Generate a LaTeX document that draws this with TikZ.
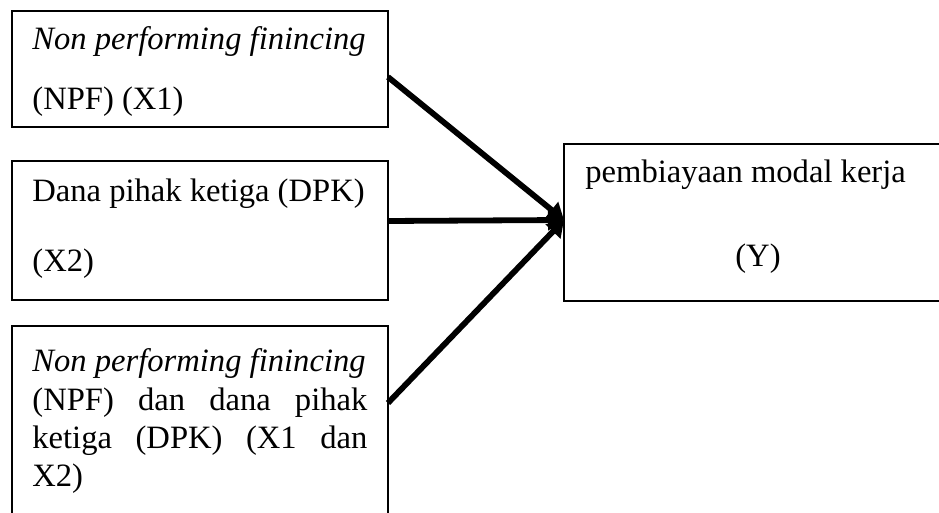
\documentclass[tikz,border=0pt]{standalone}
\usepackage{fontspec}
\setmainfont{Liberation Serif}
\usetikzlibrary{arrows.meta}
\begin{document}
\begin{tikzpicture}[x=0.5pt,y=-0.5pt,
  box/.style={draw,line width=0.8pt,minimum width=188pt,inner sep=0pt},
  txt/.style={anchor=base west,inner sep=0pt,font=\fontsize{16.3}{19}\selectfont},
  link/.style={line width=2.9pt,-{Triangle[length=8pt,width=10pt]}}]
\useasboundingbox (0,0) rectangle (939,513);
\clip (0,0) rectangle (939,513);
% variable boxes
\node[box,minimum height=58pt] (b1) at (200,69) {};
\node[box,minimum height=69.5pt] (b2) at (200,230.5) {};
\node[box,minimum height=102pt] (b3) at (200,428) {};
\node[draw,line width=0.8pt,minimum width=193pt,minimum height=78.5pt,inner sep=0pt] (b4) at (757,222.5) {};
% texts
\node[txt] (t1a) at (32,50) {\itshape Non performing finincing};
\node[txt] (t1b) at (32,110) {(NPF) (X1)};
\node[txt] (t2a) at (32,202) {Dana pihak ketiga (DPK)};
\node[txt] (t2b) at (32,272) {(X2)};
\node[txt] (t3a) at (32,372) {\itshape Non performing finincing};
\node[txt] (t3b) at (32,411) {\makebox[167.5pt][s]{(NPF) dan dana pihak}};
\node[txt] (t3c) at (32,449) {\makebox[167.5pt][s]{ketiga (DPK) (X1 dan}};
\node[txt] (t3d) at (32,487) {X2)};
\node[txt] (t4a) at (585,183) {pembiayaan modal kerja};
\node[txt,anchor=base] (t4b) at (758,267) {(Y)};
% connectors
\coordinate (s1) at (388,77);
\coordinate (s2) at (388,221);
\coordinate (s3) at (388,403);
\coordinate (tip) at (564,220);
\draw[link] (s1) -- (tip);
\draw[link] (s2) -- (tip);
\draw[link] (s3) -- (tip);
\end{tikzpicture}
\end{document}
